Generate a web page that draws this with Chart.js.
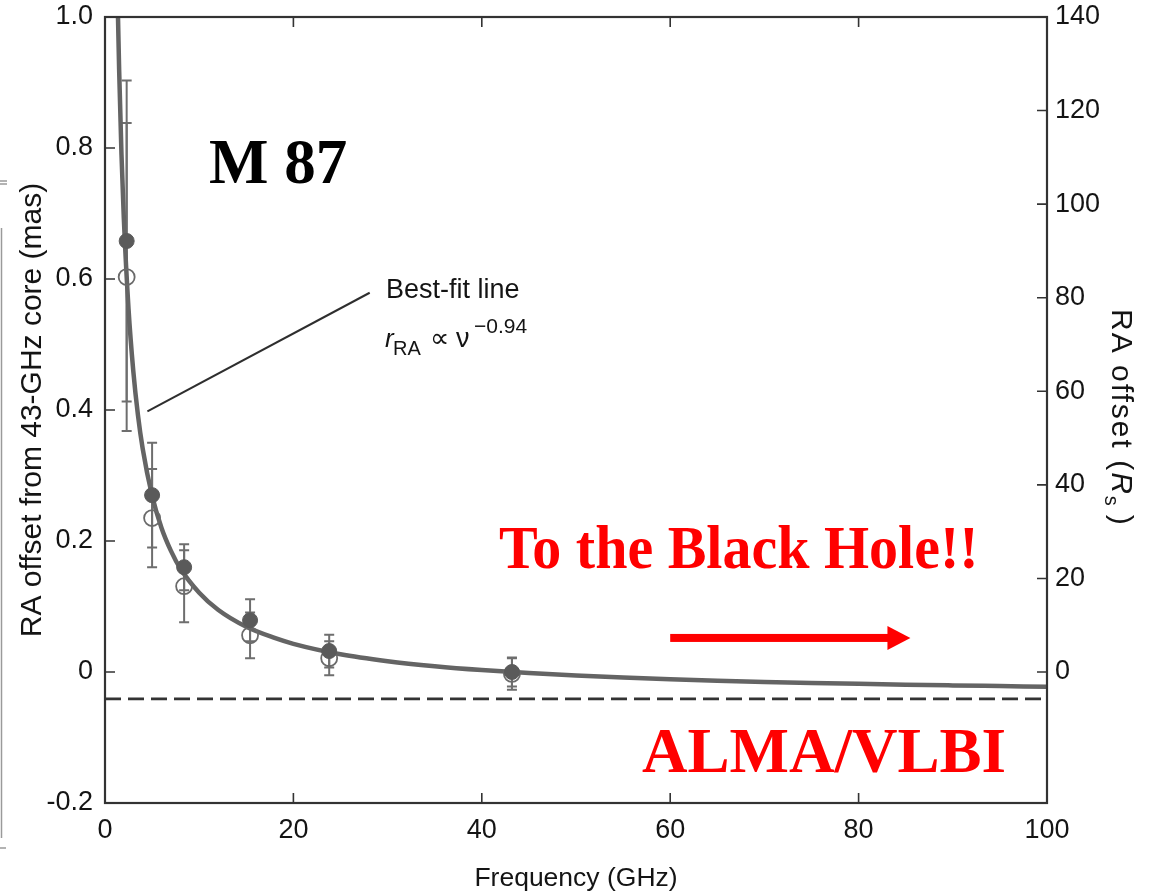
<!DOCTYPE html>
<html>
<head>
<meta charset="utf-8">
<script src="https://cdn.jsdelivr.net/npm/chart.js@4.4.1/dist/chart.umd.min.js"></script>
<style>
  html, body { margin: 0; padding: 0; background: #ffffff; }
  #wrap { width: 1150px; height: 892px; position: relative; }
</style>
</head>
<body>
<div id="wrap"><canvas id="c" width="1150" height="892"></canvas></div>
<script>
// Observing frequencies (GHz)
const freqGHz = [2.3, 5.0, 8.4, 15.4, 23.8, 43.2];
// Core offsets in RA, filled circles (mas) and their errors
const offsetFilled = [0.658, 0.270, 0.160, 0.079, 0.032, 0.000];
const errFilled    = [0.245, 0.080, 0.035, 0.032, 0.025, 0.022];
// Core offsets in RA, open circles (mas) and their errors
const offsetOpen = [0.603, 0.235, 0.131, 0.056, 0.021, -0.003];
const errOpen    = [0.235, 0.075, 0.055, 0.035, 0.026, 0.024];
// Best-fit line r_RA ∝ ν^-0.94, sampled along the curve
const fitFreq   = [1.38, 1.5, 1.75, 2.0, 2.5, 3.0, 3.5, 4.0, 5.0, 6.0, 7.0, 8.0, 10, 12, 15, 18, 20, 25, 30, 35, 40, 45, 50, 55, 60, 65, 70, 75, 80, 85, 90, 95, 100];
const fitOffset = [1.00, 0.92, 0.79, 0.692, 0.554, 0.460, 0.392, 0.341, 0.269, 0.220, 0.185, 0.158, 0.121, 0.095, 0.069, 0.052, 0.043, 0.027, 0.0165, 0.0088, 0.0029, -0.0017, -0.0054, -0.0085, -0.0110, -0.0132, -0.0151, -0.0167, -0.0181, -0.0194, -0.0205, -0.0215, -0.0225];
// Asymptotic offset of the fit (mas)
const asymptote = -0.041;
// Axis ticks and labels
const xTicks = [0, 20, 40, 60, 80, 100];
const yTicks = [-0.2, 0, 0.2, 0.4, 0.6, 0.8, 1.0];
const yTickLabels = ['-0.2', '0', '0.2', '0.4', '0.6', '0.8', '1.0'];
const rsTicks = [0, 20, 40, 60, 80, 100, 120, 140];
// Schwarzschild radii per mas
const rsPerMas = 140;
// Leader line of the fit label, and the red arrow (GHz, mas)
const leaderFrom = [4.5, 0.398];
const leaderTo = [28.1, 0.579];
const arrowFrom = [60.0, 0.052];
const arrowTo = [85.5, 0.052];

const SANS = "'Liberation Sans', Arial, 'DejaVu Sans', sans-serif";
const SERIF = "'Liberation Serif', 'Times New Roman', serif";
const INK = '#141414';

const pts = (xs, ys) => xs.map((x, i) => ({ x: x, y: ys[i] }));

const decorPlugin = {
  id: 'decor',
  beforeDatasetsDraw(chart) {
    const ctx = chart.ctx, xs = chart.scales.x, ys = chart.scales.y;
    ctx.save();
    ctx.strokeStyle = '#6e6e6e';
    ctx.lineWidth = 2;
    const bars = (vals, errs) => {
      freqGHz.forEach((f, i) => {
        const px = xs.getPixelForValue(f);
        const top = ys.getPixelForValue(vals[i] + errs[i]);
        const bot = ys.getPixelForValue(vals[i] - errs[i]);
        ctx.beginPath();
        ctx.moveTo(px, top); ctx.lineTo(px, bot);
        ctx.moveTo(px - 5, top); ctx.lineTo(px + 5, top);
        ctx.moveTo(px - 5, bot); ctx.lineTo(px + 5, bot);
        ctx.stroke();
      });
    };
    bars(offsetFilled, errFilled);
    bars(offsetOpen, errOpen);
    ctx.restore();
  },
  afterDraw(chart) {
    const ctx = chart.ctx, a = chart.chartArea;
    const xs = chart.scales.x, ys = chart.scales.y, rs = chart.scales.y2;
    ctx.save();
    // frame
    ctx.strokeStyle = '#333333';
    ctx.lineWidth = 2.2;
    ctx.strokeRect(a.left, a.top, a.right - a.left, a.bottom - a.top);
    // inward ticks
    ctx.lineWidth = 1.6;
    ctx.beginPath();
    xTicks.forEach(v => {
      const px = xs.getPixelForValue(v);
      ctx.moveTo(px, a.bottom); ctx.lineTo(px, a.bottom - 10);
      ctx.moveTo(px, a.top); ctx.lineTo(px, a.top + 10);
    });
    yTicks.forEach(v => {
      const py = ys.getPixelForValue(v);
      ctx.moveTo(a.left, py); ctx.lineTo(a.left + 10, py);
    });
    rsTicks.forEach(v => {
      const py = rs.getPixelForValue(v);
      ctx.moveTo(a.right, py); ctx.lineTo(a.right - 10, py);
    });
    ctx.stroke();

    // faint edge of the neighbouring panel
    ctx.strokeStyle = '#9a9a9a';
    ctx.lineWidth = 1.5;
    ctx.beginPath();
    ctx.moveTo(1.5, 228); ctx.lineTo(1.5, 838);
    ctx.moveTo(0, 181); ctx.lineTo(7, 181);
    ctx.moveTo(0, 184); ctx.lineTo(7, 184);
    ctx.moveTo(0, 848); ctx.lineTo(6, 848);
    ctx.stroke();

    // right axis title: RA offset (R_s)
    ctx.save();
    ctx.translate(1112, 309);
    ctx.rotate(Math.PI / 2);
    ctx.fillStyle = INK;
    ctx.textBaseline = 'alphabetic';
    ctx.textAlign = 'left';
    ctx.letterSpacing = '2px';
    let tx = 0;
    ctx.font = '30px ' + SANS;
    ctx.fillText('RA offset (', tx, 0); tx += ctx.measureText('RA offset (').width;
    ctx.font = 'italic 30px ' + SANS;
    ctx.fillText('R', tx, 0); tx += ctx.measureText('R').width;
    ctx.font = '20px ' + SANS;
    ctx.fillText('s', tx, 7); tx += ctx.measureText('s').width + 7;
    ctx.font = '30px ' + SANS;
    ctx.fillText(')', tx, 0);
    ctx.restore();

    // leader line to the fit
    ctx.strokeStyle = '#2e2e2e';
    ctx.lineWidth = 2;
    ctx.beginPath();
    ctx.moveTo(xs.getPixelForValue(leaderFrom[0]), ys.getPixelForValue(leaderFrom[1]));
    ctx.lineTo(xs.getPixelForValue(leaderTo[0]), ys.getPixelForValue(leaderTo[1]));
    ctx.stroke();

    // fit label
    ctx.fillStyle = INK;
    ctx.textAlign = 'left';
    ctx.textBaseline = 'alphabetic';
    ctx.font = '27px ' + SANS;
    ctx.fillText('Best-fit line', 386, 298);
    ctx.font = 'italic 26px ' + SANS;
    ctx.fillText('r', 385, 347);
    ctx.font = '20px ' + SANS;
    ctx.fillText('RA', 393, 355);
    ctx.font = '27px ' + SANS;
    ctx.fillText('\u221D', 430, 347);
    ctx.fillText('\u03BD', 456, 347);
    ctx.font = '21px ' + SANS;
    ctx.fillText('\u22120.94', 474, 333);

    // source name
    ctx.fillStyle = '#000000';
    ctx.font = 'bold 63px ' + SERIF;
    ctx.fillText('M 87', 209, 183);

    // red call-outs
    ctx.fillStyle = '#ff0000';
    ctx.save();
    ctx.translate(499, 568);
    ctx.scale(1, 1.06);
    ctx.font = 'bold 58px ' + SERIF;
    ctx.fillText('To the Black Hole!!', 0, 0);
    ctx.restore();
    ctx.font = 'bold 63px ' + SERIF;
    ctx.fillText('ALMA/VLBI', 642, 772);

    // red arrow
    const ax0 = xs.getPixelForValue(arrowFrom[0]);
    const ax1 = xs.getPixelForValue(arrowTo[0]);
    const ay = ys.getPixelForValue(arrowFrom[1]);
    ctx.fillRect(ax0, ay - 4, (ax1 - 22) - ax0, 8);
    ctx.beginPath();
    ctx.moveTo(ax1, ay);
    ctx.lineTo(ax1 - 23, ay - 12);
    ctx.lineTo(ax1 - 23, ay + 12);
    ctx.closePath();
    ctx.fill();
    ctx.restore();
  }
};

const tickFont = { family: SANS, size: 27 };

new Chart(document.getElementById('c').getContext('2d'), {
  type: 'scatter',
  data: {
    datasets: [
      {
        label: 'filled',
        data: pts(freqGHz, offsetFilled),
        pointRadius: 7.5,
        pointBackgroundColor: '#5a5a5a',
        pointBorderColor: '#5a5a5a',
        pointBorderWidth: 1,
        showLine: false,
        order: 0
      },
      {
        label: 'open',
        data: pts(freqGHz, offsetOpen),
        pointRadius: 8,
        pointBackgroundColor: 'rgba(0,0,0,0)',
        pointBorderColor: '#6a6a6a',
        pointBorderWidth: 1.8,
        showLine: false,
        order: 1
      },
      {
        label: 'fit',
        data: pts(fitFreq, fitOffset),
        showLine: true,
        borderColor: '#646464',
        borderWidth: 4.5,
        pointRadius: 0,
        cubicInterpolationMode: 'monotone',
        order: 2
      },
      {
        label: 'asymptote',
        data: [{ x: xTicks[0], y: asymptote }, { x: xTicks[xTicks.length - 1], y: asymptote }],
        showLine: true,
        borderColor: '#333333',
        borderWidth: 2.8,
        borderDash: [16, 7],
        pointRadius: 0,
        order: 3
      }
    ]
  },
  options: {
    responsive: false,
    animation: false,
    devicePixelRatio: 1,
    layout: { padding: { top: 17, left: 0, right: 0, bottom: 0 } },
    plugins: { legend: { display: false }, tooltip: { enabled: false } },
    scales: {
      x: {
        type: 'linear',
        position: 'bottom',
        min: 0, max: 100,
        afterBuildTicks: s => { s.ticks = xTicks.map(v => ({ value: v })); },
        afterFit: s => { s.height = 89; s.paddingLeft = 0; s.paddingRight = 0; },
        grid: { display: false, drawTicks: false },
        border: { display: false },
        ticks: { padding: 11, font: tickFont, color: INK, maxRotation: 0, autoSkip: false, callback: v => String(v) },
        title: { display: true, text: 'Frequency (GHz)', color: INK, font: { family: SANS, size: 26.5, lineHeight: 1 }, padding: 0 }
      },
      y: {
        type: 'linear',
        position: 'left',
        min: -0.2, max: 1.0,
        afterBuildTicks: s => { s.ticks = yTicks.map(v => ({ value: v })); },
        afterFit: s => { s.width = 105; s.paddingTop = 0; s.paddingBottom = 0; },
        grid: { display: false, drawTicks: false },
        border: { display: false },
        ticks: { padding: 12, font: tickFont, color: INK, autoSkip: false, callback: (v, i) => yTickLabels[i] },
        title: { display: true, text: 'RA offset from 43-GHz core (mas)', color: INK, font: { family: SANS, size: 30, lineHeight: 1 }, padding: { top: 18, bottom: 0 } }
      },
      y2: {
        type: 'linear',
        position: 'right',
        min: yTicks[0] * rsPerMas, max: yTicks[yTicks.length - 1] * rsPerMas,
        afterBuildTicks: s => { s.ticks = rsTicks.map(v => ({ value: v })); },
        afterFit: s => { s.width = 103; s.paddingTop = 0; s.paddingBottom = 0; },
        grid: { display: false, drawTicks: false },
        border: { display: false },
        ticks: { padding: 8, font: tickFont, color: INK, autoSkip: false, callback: v => String(v) }
      }
    }
  },
  plugins: [decorPlugin]
});
</script>
</body>
</html>
